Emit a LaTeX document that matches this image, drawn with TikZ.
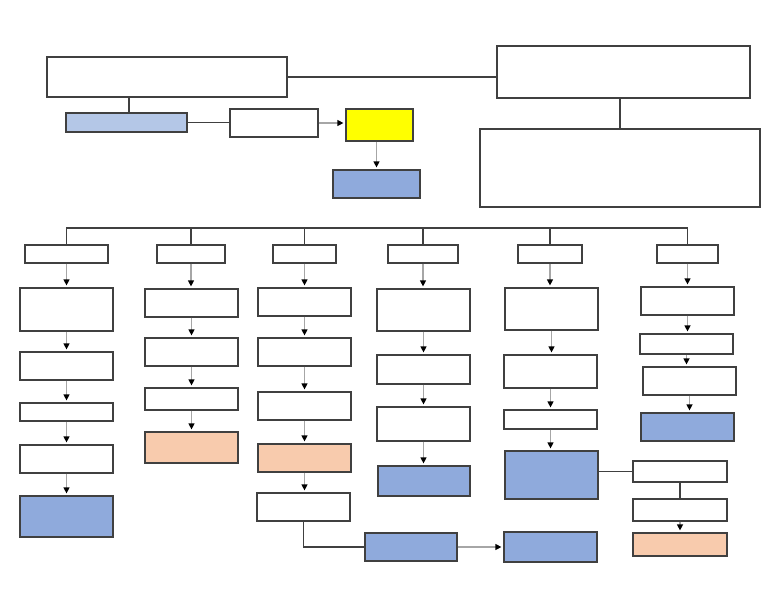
\documentclass[tikz,border=0pt]{standalone}
\usetikzlibrary{arrows.meta}
\definecolor{bord}{HTML}{404040}
\definecolor{blu}{HTML}{8FAADC}
\definecolor{lblu}{HTML}{B4C7E7}
\definecolor{ora}{HTML}{F8CBAD}
\definecolor{yel}{HTML}{FFFF00}
\definecolor{lgr}{HTML}{A6A6A6}
\tikzset{
  boxst/.style={draw=bord,line width=1.2pt,inner sep=0pt,fill=white},
  link/.style={draw=bord,line width=1.2pt},
  arr/.style={draw=lgr,line width=1.2pt,shorten >=2pt,-{Triangle[black,length=6pt,width=6pt]}},
}
\newcommand{\bx}[6]{\node[boxst,fill=#6,minimum width={(#4-#2)*1pt},minimum height={(#5-#3)*1pt}] (#1) at ({(#2+#4)/2},{(#3+#5)/2}) {};}
\begin{document}
\begin{tikzpicture}[x=1pt,y=-1pt]
\useasboundingbox (0,0) rectangle (768,594);
% top
\bx{A}{47}{57}{287}{97}{white}
\bx{B}{497}{46}{750}{98}{white}
\bx{C}{66}{113}{187}{132}{lblu}
\bx{D}{230}{109}{318}{137}{white}
\bx{E}{346}{109}{413}{141}{yel}
\bx{F}{333}{170}{420}{198}{blu}
\bx{G}{480}{129}{760}{207}{white}
% column heads
\bx{h1}{25}{245}{108}{263}{white}
\bx{h2}{157}{245}{225}{263}{white}
\bx{h3}{273}{245}{336}{263}{white}
\bx{h4}{388}{245}{458}{263}{white}
\bx{h5}{518}{245}{582}{263}{white}
\bx{h6}{657}{245}{718}{263}{white}
% column 1
\bx{c1a}{20}{288}{113}{331}{white}
\bx{c1b}{20}{352}{113}{380}{white}
\bx{c1c}{20}{403}{113}{421}{white}
\bx{c1d}{20}{445}{113}{473}{white}
\bx{c1e}{20}{496}{113}{537}{blu}
% column 2
\bx{c2a}{145}{289}{238}{317}{white}
\bx{c2b}{145}{338}{238}{366}{white}
\bx{c2c}{145}{388}{238}{410}{white}
\bx{c2d}{145}{432}{238}{463}{ora}
% column 3
\bx{c3a}{258}{288}{351}{316}{white}
\bx{c3b}{258}{338}{351}{366}{white}
\bx{c3c}{258}{392}{351}{420}{white}
\bx{c3d}{258}{444}{351}{472}{ora}
\bx{c3e}{257}{493}{350}{521}{white}
\bx{c3f}{365}{533}{457}{561}{blu}
% column 4
\bx{c4a}{377}{289}{470}{331}{white}
\bx{c4b}{377}{355}{470}{384}{white}
\bx{c4c}{377}{407}{470}{441}{white}
\bx{c4d}{378}{466}{470}{496}{blu}
% column 5
\bx{c5a}{505}{288}{598}{330}{white}
\bx{c5b}{504}{355}{597}{388}{white}
\bx{c5c}{504}{410}{597}{429}{white}
\bx{c5d}{505}{451}{598}{499}{blu}
\bx{c5f}{504}{532}{597}{562}{blu}
% column 6
\bx{c6a}{641}{287}{734}{315}{white}
\bx{c6b}{640}{334}{733}{354}{white}
\bx{c6c}{643}{367}{736}{395}{white}
\bx{c6d}{641}{413}{734}{441}{blu}
\bx{c6e}{633}{461}{727}{482}{white}
\bx{c6f}{633}{499}{727}{521}{white}
\bx{c6g}{633}{533}{727}{556}{ora}
% top connectors
\draw[link] (A.east) -- (A.east -| B.west);
\draw[link] ([xshift=2.5pt]A.south -| C.north) -- ([xshift=2.5pt]C.north);
\draw[link] (C.east) -- (C.east -| D.west);
\draw[arr] (D.east) -- (D.east -| E.west);
\draw[arr] (F.north |- E.south) -- (F.north);
\draw[link] (B.south -| G.north) -- (G.north);
% bus
\coordinate (bus) at (0,228);
\draw[link] (h1.north) -- (h1.north |- bus) -- (h6.north |- bus) -- (h6.north);
\foreach \h in {h2,h3,h4,h5} \draw[link] (\h.north) -- (\h.north |- bus);
% column arrows
\foreach \a/\b in {h1/c1a,c1a/c1b,c1b/c1c,c1c/c1d,c1d/c1e,
                   h2/c2a,c2a/c2b,c2b/c2c,c2c/c2d,
                   h3/c3a,c3a/c3b,c3b/c3c,c3c/c3d,c3d/c3e,
                   h4/c4a,c4a/c4b,c4b/c4c,c4c/c4d,
                   h5/c5a,c5a/c5b,c5b/c5c,c5c/c5d,
                   h6/c6a,c6a/c6b,c6b/c6c,c6c/c6d,c6f/c6g}
  \draw[arr] (\a.south) -- (\a.south |- \b.north);
% other connectors
\draw[link] (c3e.south) |- (c3f.west);
\draw[arr] (c3f.east) -- (c3f.east -| c5f.west);
\draw[link] (c5d.east |- c6e.west) -- (c6e.west);
\draw[link] (c6e.south) -- (c6e.south |- c6f.north);
\end{tikzpicture}
\end{document}
